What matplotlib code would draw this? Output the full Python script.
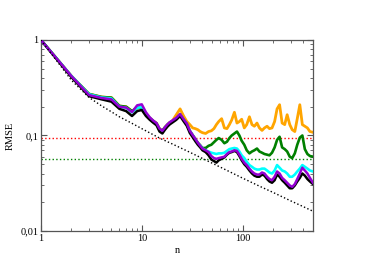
import matplotlib
matplotlib.use("Agg")
import matplotlib.pyplot as plt
from matplotlib.ticker import LogLocator, FixedLocator, FixedFormatter, NullFormatter

n = [1, 2, 3, 4, 5, 6, 7, 8, 9, 10, 11, 12, 13, 14, 15, 16, 17, 18, 19, 20,
     22, 24, 26, 28, 30, 32, 34, 36, 38, 40, 43, 46, 49, 52, 55, 58, 62, 66, 70, 74,
     78, 83, 88, 93, 98, 104, 110, 117, 124, 131, 139, 147, 156, 165, 175, 185, 196, 208, 220, 233,
     247, 262, 277, 294, 311, 330, 349, 370, 392, 415, 440, 466, 500]

orange = [1.0, 0.42, 0.272, 0.253, 0.249, 0.204, 0.2, 0.18, 0.195, 0.195, 0.168, 0.152, 0.142, 0.134, 0.117, 0.112, 0.122, 0.13, 0.137, 0.141,
          0.165, 0.19, 0.16, 0.14, 0.13, 0.12, 0.118, 0.115, 0.11, 0.107, 0.105, 0.11, 0.112, 0.118, 0.13, 0.14, 0.15, 0.12, 0.118, 0.13,
          0.145, 0.175, 0.135, 0.14, 0.148, 0.12, 0.13, 0.157, 0.13, 0.125, 0.135, 0.12, 0.113, 0.12, 0.125, 0.118, 0.12, 0.14, 0.19, 0.21,
          0.135, 0.13, 0.165, 0.13, 0.115, 0.11, 0.15, 0.21, 0.13, 0.125, 0.12, 0.11, 0.108]

green = [1.0, 0.42, 0.272, 0.253, 0.249, 0.204, 0.2, 0.18, 0.195, 0.195, 0.168, 0.152, 0.142, 0.134, 0.117, 0.112, 0.122, 0.13, 0.137, 0.141,
         0.151, 0.166, 0.147, 0.132, 0.112, 0.101, 0.092, 0.084, 0.079, 0.074, 0.074, 0.078, 0.08, 0.085, 0.09, 0.094, 0.09, 0.083, 0.086, 0.094,
         0.1, 0.105, 0.11, 0.1, 0.088, 0.08, 0.07, 0.065, 0.068, 0.07, 0.073, 0.068, 0.066, 0.064, 0.063, 0.062, 0.066, 0.075, 0.09, 0.097,
         0.075, 0.072, 0.068, 0.06, 0.058, 0.065, 0.08, 0.095, 0.1, 0.072, 0.064, 0.061, 0.06]

cyan = [1.0, 0.42, 0.27, 0.25, 0.244, 0.2, 0.195, 0.175, 0.195, 0.198, 0.168, 0.151, 0.14, 0.132, 0.115, 0.11, 0.12, 0.129, 0.136, 0.14,
        0.15, 0.165, 0.146, 0.131, 0.111, 0.1, 0.091, 0.083, 0.078, 0.073, 0.07, 0.068, 0.066, 0.065, 0.064, 0.065, 0.065, 0.066, 0.069, 0.072,
        0.073, 0.074, 0.073, 0.068, 0.062, 0.058, 0.053, 0.049, 0.047, 0.045, 0.044, 0.044, 0.045, 0.045, 0.043, 0.041, 0.04, 0.043, 0.049, 0.046,
        0.043, 0.042, 0.04, 0.037, 0.037, 0.039, 0.042, 0.045, 0.049, 0.047, 0.045, 0.043, 0.042]

black = [1.0, 0.41, 0.258, 0.239, 0.226, 0.19, 0.18, 0.16, 0.18, 0.185, 0.16, 0.146, 0.136, 0.128, 0.11, 0.105, 0.115, 0.124, 0.131, 0.136,
         0.146, 0.16, 0.141, 0.126, 0.106, 0.096, 0.087, 0.08, 0.075, 0.07, 0.067, 0.062, 0.056, 0.054, 0.052, 0.055, 0.057, 0.059, 0.063, 0.066,
         0.067, 0.069, 0.067, 0.061, 0.055, 0.05, 0.047, 0.043, 0.04, 0.038, 0.037, 0.037, 0.039, 0.038, 0.035, 0.033, 0.032, 0.034, 0.039, 0.037,
         0.034, 0.032, 0.03, 0.028, 0.028, 0.03, 0.033, 0.036, 0.04, 0.038, 0.035, 0.033, 0.031]

purple = [1.0, 0.42, 0.265, 0.247, 0.239, 0.2, 0.196, 0.176, 0.207, 0.212, 0.175, 0.155, 0.143, 0.135, 0.118, 0.112, 0.122, 0.131, 0.138, 0.143,
          0.153, 0.168, 0.148, 0.133, 0.112, 0.101, 0.092, 0.084, 0.078, 0.073, 0.07, 0.067, 0.061, 0.058, 0.057, 0.058, 0.059, 0.06, 0.064, 0.067,
          0.068, 0.07, 0.069, 0.063, 0.057, 0.052, 0.049, 0.045, 0.042, 0.04, 0.039, 0.039, 0.041, 0.04, 0.037, 0.035, 0.034, 0.037, 0.042, 0.04,
          0.036, 0.034, 0.032, 0.03, 0.029, 0.031, 0.035, 0.04, 0.046, 0.043, 0.04, 0.036, 0.032]

bound_n = [1, 2, 3, 4, 5, 6, 8, 10, 15, 20, 30, 40, 60, 100, 150, 200, 300, 400, 500]
bound_v = [1.0, 0.38, 0.25, 0.204, 0.177, 0.157, 0.134, 0.118, 0.094, 0.0817, 0.0667, 0.0575,
           0.0467, 0.0358, 0.0292, 0.0254, 0.0207, 0.018, 0.0161]

red_level = 0.0948
green_level = 0.0563

xticks = [1, 10, 100]
xticklabels = ["1", "10", "100"]
yticks = [0.01, 0.1, 1]
yticklabels = ["0,01", "0,1", "1"]

plt.rcParams['font.family'] = ['Liberation Serif', 'DejaVu Serif']

fig = plt.figure(figsize=(3.74, 2.64), dpi=100)
ax = fig.add_axes([0.1096, 0.125, 0.7273, 0.7235])

ax.axhline(red_level, color='red', linestyle=':', linewidth=1.0, zorder=1)
ax.axhline(green_level, color='green', linestyle=':', linewidth=1.0, zorder=1)

ax.plot(n, orange, color='orange', linewidth=2.0, zorder=2)
ax.plot(n, green, color='green', linewidth=1.9, zorder=3)
ax.plot(n, cyan, color='cyan', linewidth=1.9, zorder=4)
ax.plot(n, black, color='black', linewidth=1.8, zorder=5)
ax.plot(n, purple, color='darkviolet', linewidth=1.8, zorder=6)
ax.plot(bound_n, bound_v, color='black', linestyle=':', linewidth=1.0, zorder=7)

ax.set_xscale('log')
ax.set_yscale('log')
ax.set_xlim(1, 500)
ax.set_ylim(0.01, 1)

ax.xaxis.set_major_locator(FixedLocator(xticks))
ax.xaxis.set_major_formatter(FixedFormatter(xticklabels))
ax.yaxis.set_major_locator(FixedLocator(yticks))
ax.yaxis.set_major_formatter(FixedFormatter(yticklabels))
ax.xaxis.set_minor_locator(LogLocator(base=10, subs=range(2, 10)))
ax.yaxis.set_minor_locator(LogLocator(base=10, subs=range(2, 10)))
ax.xaxis.set_minor_formatter(NullFormatter())
ax.yaxis.set_minor_formatter(NullFormatter())

ax.tick_params(which='both', direction='in', top=True, right=True, color='#555555', labelsize=7.5, pad=2)
ax.tick_params(which='major', length=4, width=0.8)
ax.tick_params(which='minor', length=2, width=0.6)
for s in ax.spines.values():
    s.set_color('#555555')
    s.set_linewidth(0.9)

ax.set_xlabel('n', fontsize=7.5, labelpad=2)
ax.set_ylabel('RMSE', fontsize=7.5, labelpad=4)

fig.savefig('out.png', dpi=100)
